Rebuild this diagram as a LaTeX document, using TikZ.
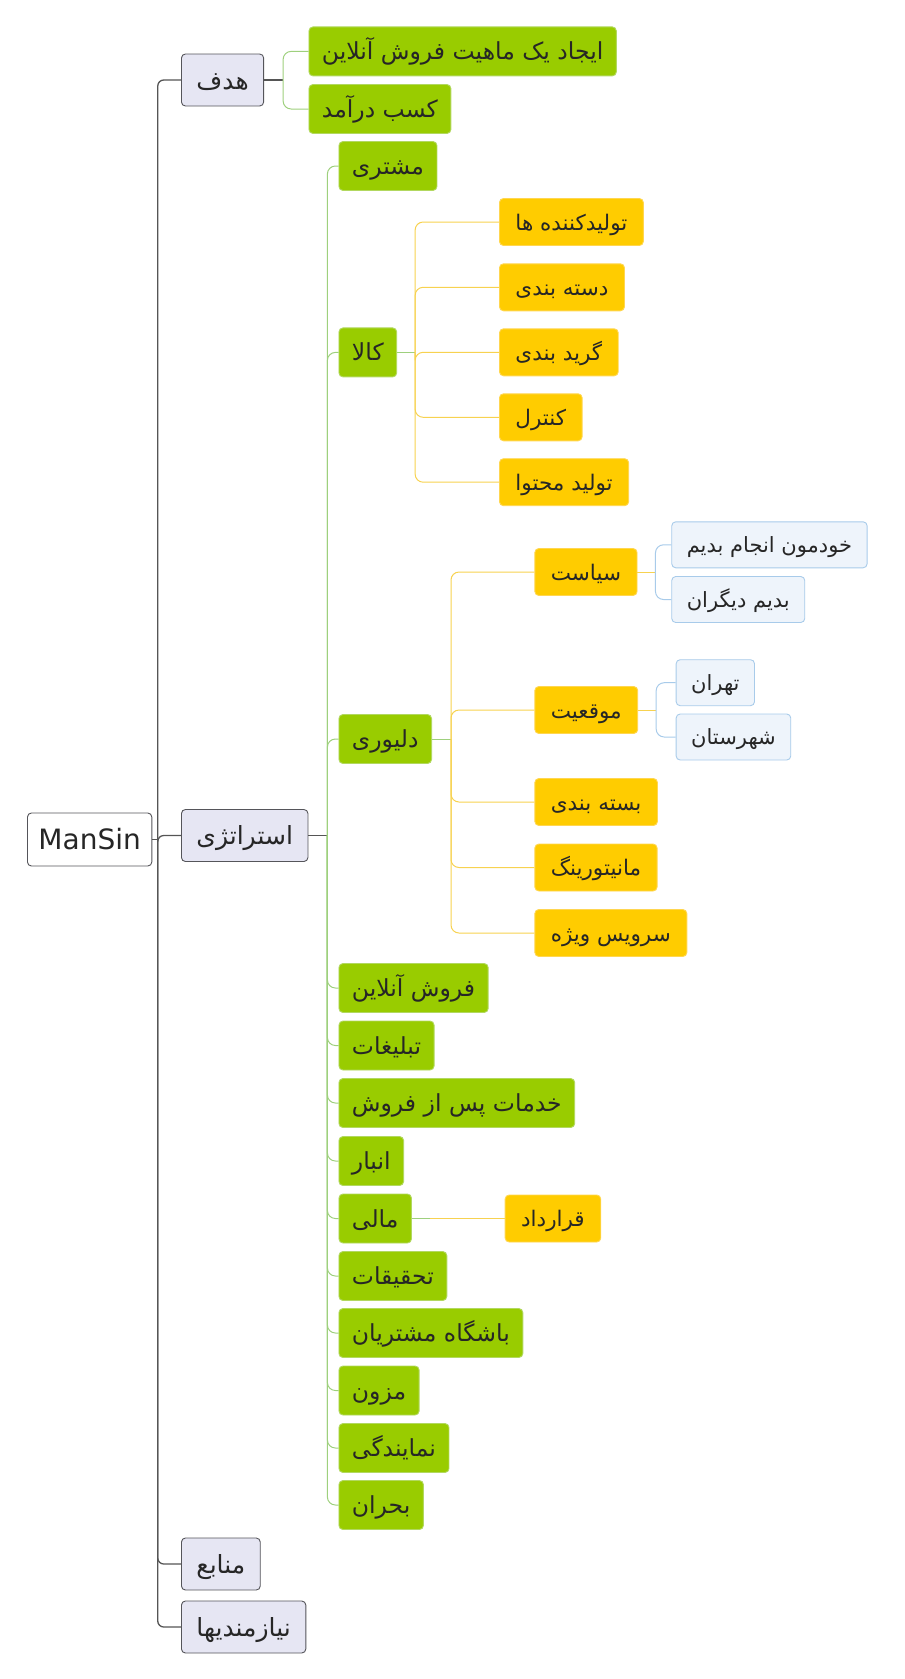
\documentclass[tikz,border=0pt]{standalone}
\usepackage{fontspec}
\setmainfont{DejaVu Sans}
\newfontfamily\farsi[Script=Arabic]{DejaVu Sans}
\TeXXeTstate=1
\newcommand{\rtl}[1]{\beginR #1\endR}

\definecolor{lavfill}{RGB}{230,230,243}
\definecolor{rimgray}{RGB}{85,85,90}
\definecolor{leafgreen}{RGB}{153,204,0}
\definecolor{leafrim}{RGB}{178,216,96}
\definecolor{gold}{RGB}{255,204,0}
\definecolor{goldrim}{RGB}{255,214,80}
\definecolor{paleblue}{RGB}{238,244,251}
\definecolor{palerim}{RGB}{168,203,234}
\definecolor{wiregray}{RGB}{85,85,85}
\definecolor{wiregreen}{RGB}{158,208,125}
\definecolor{wiregold}{RGB}{247,210,80}

\tikzset{
  box/.style={anchor=west, rounded corners=4pt, text=black!85, line width=0.9pt},
  rootbox/.style={box, draw=rimgray, fill=white, minimum height=53pt, inner xsep=11pt, text height=24pt, text depth=4pt, font=\fontsize{28}{30}\selectfont},
  topic/.style={box, draw=rimgray, fill=lavfill, minimum height=52pt, inner xsep=15pt, text height=22.5pt, text depth=4pt, font=\fontsize{25}{28}\farsi},
  greenbox/.style={box, draw=leafrim, fill=leafgreen, minimum height=49pt, inner xsep=13pt, text height=21pt, text depth=4pt, font=\fontsize{23.5}{26}\farsi},
  goldbox/.style={box, draw=goldrim, fill=gold, minimum height=47pt, inner xsep=16pt, text height=20pt, text depth=4pt, font=\fontsize{21.5}{24}\farsi},
  bluebox/.style={box, draw=palerim, fill=paleblue, minimum height=46pt, inner xsep=15pt, text height=19.5pt, text depth=4pt, font=\fontsize{21}{24}\farsi},
  graywire/.style={draw=wiregray, line width=1.3pt, rounded corners=6pt},
  greenwire/.style={draw=wiregreen, line width=1pt, rounded corners=8pt},
  goldwire/.style={draw=wiregold, line width=1pt, rounded corners=8pt},
  bluewire/.style={draw=palerim, line width=1pt, rounded corners=8pt}
}

\begin{document}
\begin{tikzpicture}[x=1pt,y=-1pt]
\useasboundingbox (0,0) rectangle (905,1679);

% root and main topics
\node[rootbox] (mansin) at (27,839.5) {ManSin};
\node[topic] (hadaf) at (181,80) {\rtl{هدف}};
\node[topic] (strategy) at (181,835.5) {\rtl{استراتژی}};
\node[topic] (manabe) at (181,1564) {\rtl{منابع}};
\node[topic] (niaz) at (181,1627) {\rtl{نیازمندیها}};

% goals
\node[greenbox] (ijad) at (308.5,51.4) {\rtl{ایجاد یک ماهیت فروش آنلاین}};
\node[greenbox] (kasb) at (308.5,109) {\rtl{کسب درآمد}};

% strategy items
\node[greenbox] (moshtari) at (338.5,166) {\rtl{مشتری}};
\node[greenbox] (kala) at (338.5,352.4) {\rtl{کالا}};
\node[greenbox] (delivery) at (338.5,739) {\rtl{دلیوری}};
\node[greenbox] (forush) at (338.5,988) {\rtl{فروش آنلاین}};
\node[greenbox] (tablighat) at (338.5,1045.5) {\rtl{تبلیغات}};
\node[greenbox] (khadamat) at (338.5,1103) {\rtl{خدمات پس از فروش}};
\node[greenbox] (anbar) at (338.5,1161) {\rtl{انبار}};
\node[greenbox] (mali) at (338.5,1218.5) {\rtl{مالی}};
\node[greenbox] (tahghighat) at (338.5,1276) {\rtl{تحقیقات}};
\node[greenbox] (bashgah) at (338.5,1333) {\rtl{باشگاه مشتریان}};
\node[greenbox] (mezon) at (338.5,1390.5) {\rtl{مزون}};
\node[greenbox] (namayandegi) at (338.5,1448) {\rtl{نمایندگی}};
\node[greenbox] (bohran) at (338.5,1505) {\rtl{بحران}};

% kala
\node[goldbox] (tolidkonande) at (499,222) {\rtl{تولیدکننده ها}};
\node[goldbox] (dastebandi) at (499,287.3) {\rtl{دسته بندی}};
\node[goldbox] (geridbandi) at (499,352.3) {\rtl{گرید بندی}};
\node[goldbox] (kontrol) at (499,417.3) {\rtl{کنترل}};
\node[goldbox] (mohtava) at (499,482.2) {\rtl{تولید محتوا}};

% delivery
\node[goldbox] (siasat) at (534.4,572) {\rtl{سیاست}};
\node[goldbox] (mogheiat) at (534.4,710) {\rtl{موقعیت}};
\node[goldbox] (bastebandi) at (534.4,802) {\rtl{بسته بندی}};
\node[goldbox] (monitoring) at (534.4,867.5) {\rtl{مانیتورینگ}};
\node[goldbox] (servis) at (534.4,933) {\rtl{سرویس ویژه}};

\node[bluebox] (khodemun) at (671.3,544.8) {\rtl{خودمون انجام بدیم}};
\node[bluebox] (digaran) at (671.3,599.5) {\rtl{بدیم دیگران}};
\node[bluebox] (tehran) at (675.7,682.7) {\rtl{تهران}};
\node[bluebox] (shahrestan) at (675.7,737) {\rtl{شهرستان}};

% mali
\node[goldbox] (gharardad) at (504.7,1218.5) {\rtl{قرارداد}};

% connectors
\draw[graywire] (mansin.east) -- ++(5.5,0) coordinate (jroot);
\foreach \t in {hadaf,strategy,manabe,niaz}
  \draw[graywire] (jroot) |- (\t.west);

\draw[graywire] (hadaf.east) -- ++(19,0) coordinate (jhadaf);
\foreach \t in {ijad,kasb}
  \draw[greenwire] (jhadaf) |- (\t.west);

\draw[graywire] (strategy.east) -- ++(19,0) coordinate (jstrategy);
\foreach \t in {moshtari,kala,delivery,forush,tablighat,khadamat,anbar,mali,tahghighat,bashgah,mezon,namayandegi,bohran}
  \draw[greenwire] (jstrategy) |- (\t.west);

\draw[greenwire] (kala.east) -- ++(18,0) coordinate (jkala);
\foreach \t in {tolidkonande,dastebandi,geridbandi,kontrol,mohtava}
  \draw[goldwire] (jkala) |- (\t.west);

\draw[greenwire] (delivery.east) -- ++(19,0) coordinate (jdelivery);
\foreach \t in {siasat,mogheiat,bastebandi,monitoring,servis}
  \draw[goldwire] (jdelivery) |- (\t.west);

\draw[goldwire] (siasat.east) -- ++(18,0) coordinate (jsiasat);
\foreach \t in {khodemun,digaran}
  \draw[bluewire] (jsiasat) |- (\t.west);

\draw[goldwire] (mogheiat.east) -- ++(18,0) coordinate (jmogheiat);
\foreach \t in {tehran,shahrestan}
  \draw[bluewire] (jmogheiat) |- (\t.west);

\draw[greenwire] (mali.east) -- ++(18,0) coordinate (jmali);
\draw[goldwire] (jmali) -- (gharardad.west);
\end{tikzpicture}
\end{document}
